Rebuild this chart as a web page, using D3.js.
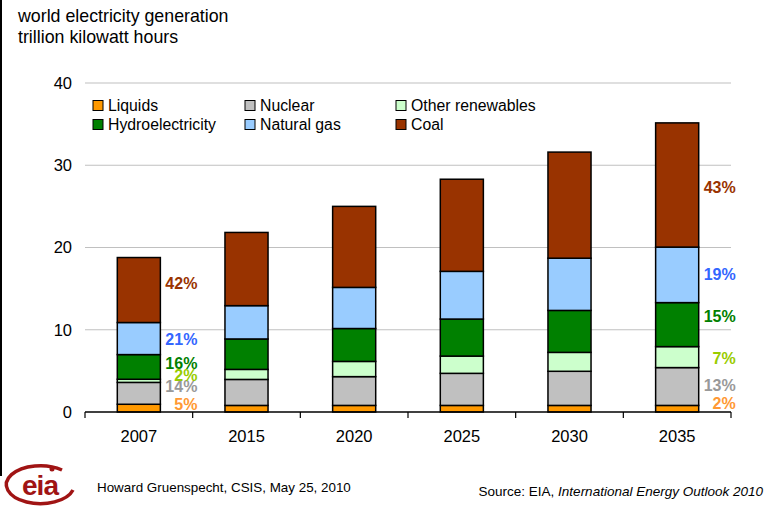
<!DOCTYPE html>
<html><head><meta charset="utf-8">
<script src="https://cdn.jsdelivr.net/npm/d3@7"></script>
<style>
html,body{margin:0;padding:0;background:#fff;}
svg{display:block;font-family:"Liberation Sans",Arial,sans-serif;}
</style></head>
<body><svg id="c" width="782" height="510"></svg>
<script>
const years = ["2007","2015","2020","2025","2030","2035"];
const seriesNames = ["Liquids","Nuclear","Other renewables","Hydroelectricity","Natural gas","Coal"];
const liquids   = [0.94, 0.8, 0.8, 0.8, 0.8, 0.8];
const nuclear   = [2.66, 3.16, 3.5, 3.9, 4.15, 4.6];
const otherRen  = [0.38, 1.22, 1.85, 2.1, 2.3, 2.55];
const hydro     = [3.0, 3.7, 4.0, 4.5, 5.1, 5.35];
const natGas    = [3.9, 4.05, 5.0, 5.8, 6.35, 6.75];
const coal      = [7.9, 8.9, 9.85, 11.2, 12.9, 15.1];
const fills     = ["#FF9900","#C0C0C0","#CCFFCC","#008000","#99CCFF","#993300"];
const labelColors = ["#FF9933","#999999","#99CC00","#008000","#3366FF","#993300"];
const yTicks = [0,10,20,30,40];
// share labels (left: 2007, right: 2035), in series order
const shares2007 = ["5%","14%","2%","16%","21%","42%"];
const shares2035 = ["2%","13%","7%","15%","19%","43%"];
// vertical anchor of each share label, in trillion kWh
const labelAt2007 = [0.94, 3.08, 4.5, 5.96, 8.88, 15.66];
const labelAt2035 = [1.06, 3.25, 6.57, 11.6, 16.75, 27.3];
const legendOrder = [0,1,2,3,4,5];

const values = [liquids, nuclear, otherRen, hydro, natGas, coal];
const rows = years.map((y,i)=>{ const r={year:y}; seriesNames.forEach((s,k)=>r[s]=values[k][i]); return r; });
const stack = d3.stack().keys(seriesNames)(rows);

const svg = d3.select("#c");
const x = d3.scaleBand().domain(years).range([85,731]).paddingInner(0.6).paddingOuter(0.3);
const y = d3.scaleLinear().domain([0,40]).range([412,83]);

// left border bar
svg.append("rect").attr("x",0).attr("y",0).attr("width",2).attr("height",476).attr("fill","#000");

// title
svg.append("text").attr("x",18).attr("y",22).attr("font-size",17.8).attr("fill","#000").text("world electricity generation");
svg.append("text").attr("x",18).attr("y",43).attr("font-size",17.8).attr("fill","#000").text("trillion kilowatt hours");

// gridlines
svg.append("g").selectAll("line").data(yTicks.filter(t=>t>0)).join("line")
  .attr("x1",85).attr("x2",731).attr("y1",d=>y(d)).attr("y2",d=>y(d))
  .attr("stroke","#c0c0c0").attr("stroke-width",1.2);

// y axis labels
const yAxis = d3.axisLeft(y).tickValues(yTicks).tickSize(0).tickPadding(13);
const gy = svg.append("g").attr("transform","translate(85,0)").call(yAxis);
gy.select(".domain").remove();
gy.selectAll("text").attr("font-size",16.5).attr("font-family","Liberation Sans, Arial, sans-serif").attr("fill","#000");

// bars
svg.append("g").selectAll("g").data(stack).join("g")
  .attr("fill",(d,i)=>fills[i])
  .selectAll("rect").data(d=>d).join("rect")
  .attr("x",d=>x(d.data.year)).attr("width",x.bandwidth())
  .attr("y",d=>y(d[1])).attr("height",d=>y(d[0])-y(d[1]))
  .attr("stroke","#000").attr("stroke-width",1.5);

// baseline + ticks
svg.append("line").attr("x1",85).attr("x2",731).attr("y1",y(0)).attr("y2",y(0)).attr("stroke","#000").attr("stroke-width",1.5);
const step = x.step();
svg.append("g").selectAll("line").data(d3.range(years.length+1)).join("line")
  .attr("x1",i=>85+i*step).attr("x2",i=>85+i*step).attr("y1",y(0)).attr("y2",y(0)+6)
  .attr("stroke","#000").attr("stroke-width",1.2);

// x labels
svg.append("g").selectAll("text").data(years).join("text")
  .attr("x",d=>x(d)+x.bandwidth()/2).attr("y",442).attr("text-anchor","middle")
  .attr("font-size",16.5).attr("fill","#000").text(d=>d);

// share labels
function shareLabels(yearIdx, texts, at){
  const xr = x(years[yearIdx]) + x.bandwidth() + 37;
  svg.append("g").selectAll("text").data(texts).join("text")
    .attr("x",xr).attr("y",(d,i)=>y(at[i])).attr("dy","0.36em")
    .attr("text-anchor","end").attr("font-size",16).attr("font-weight","bold")
    .attr("fill",(d,i)=>labelColors[i]).text(d=>d);
}
shareLabels(0, shares2007, labelAt2007);
shareLabels(5, shares2035, labelAt2035);

// legend
const legCols = [93,245,396], legRows = [105.5,124.5];
const lg = svg.append("g").selectAll("g").data(legendOrder).join("g")
  .attr("transform",(d,i)=>`translate(${legCols[i%3]},${legRows[Math.floor(i/3)]})`);
lg.append("rect").attr("x",0).attr("y",-5).attr("width",10).attr("height",10)
  .attr("fill",d=>fills[d]).attr("stroke","#000").attr("stroke-width",1);
lg.append("text").attr("x",15).attr("y",0).attr("dy","0.36em").attr("font-size",15.8).attr("fill","#000")
  .text(d=>seriesNames[d]);

// footer
const logo = svg.append("g").attr("transform","translate(40,486)");
logo.append("path").attr("d","M 22 -16 A 34 19 0 1 0 33 4").attr("fill","none").attr("stroke","#a01414").attr("stroke-width",3.5);
logo.append("circle").attr("cx",12).attr("cy",-17).attr("r",2.5).attr("fill","#a01414");
logo.append("text").attr("x",0).attr("y",9).attr("text-anchor","middle").attr("font-size",28).attr("font-weight","bold")
  .attr("fill","#a01414").attr("letter-spacing",-1).text("eia");
svg.append("text").attr("x",97).attr("y",492).attr("font-size",13.4).attr("fill","#000")
  .text("Howard Gruenspecht, CSIS, May 25, 2010");
const src = svg.append("text").attr("x",763).attr("y",496).attr("text-anchor","end").attr("font-size",13.5).attr("fill","#000");
src.append("tspan").text("Source:  EIA, ");
src.append("tspan").attr("font-style","italic").text("International Energy Outlook 2010");
</script></body></html>
